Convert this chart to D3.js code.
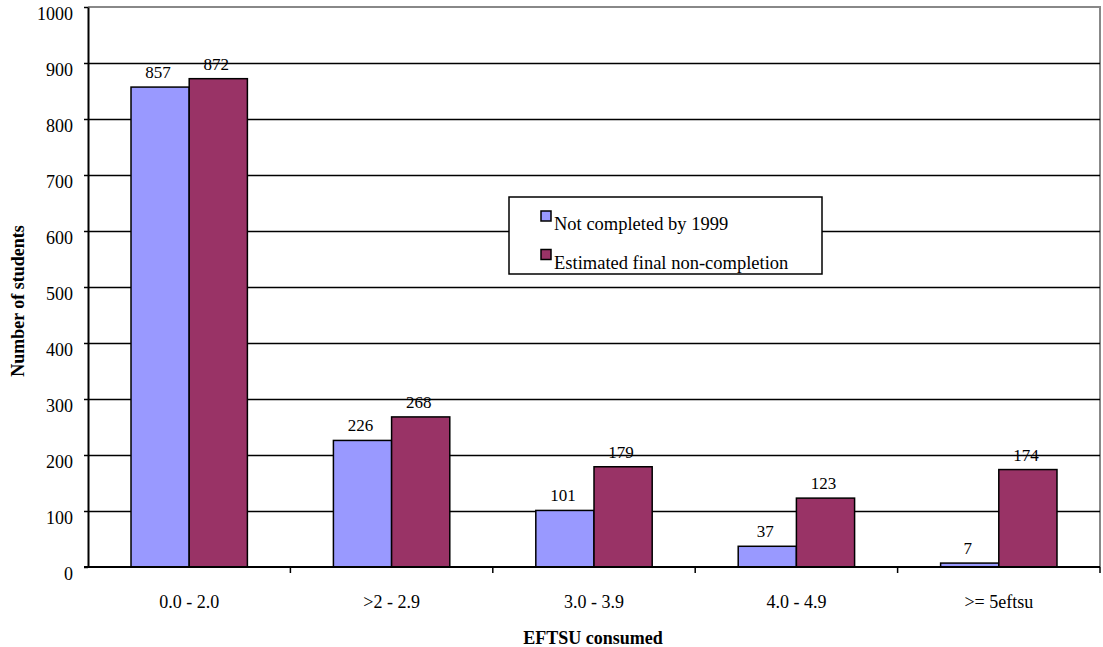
<!DOCTYPE html>
<html>
<head>
<meta charset="utf-8">
<script src="https://cdn.jsdelivr.net/npm/d3@7"></script>
<style>
  html, body { margin: 0; padding: 0; background: #fff; }
  svg { display: block; }
</style>
</head>
<body>
<svg id="chart" width="1103" height="647"></svg>
<script>
// EFTSU bands and student counts per series
const categories = ["0.0 - 2.0", ">2 - 2.9", "3.0 - 3.9", "4.0 - 4.9", ">= 5eftsu"];
const notCompleted = [857, 226, 101, 37, 7];
const estimatedFinal = [872, 268, 179, 123, 174];
const seriesNames = ["Not completed by 1999", "Estimated final non-completion"];
const seriesColors = ["#9999FF", "#993366"];
const yTicks = [0, 100, 200, 300, 400, 500, 600, 700, 800, 900, 1000];

const SERIF = '"Liberation Serif"';
const svg = d3.select("#chart");
const margin = { left: 88, top: 7, right: 1100, bottom: 567 };

const x = d3.scaleBand()
  .domain(categories)
  .range([margin.left, margin.right])
  .paddingInner(0.425)
  .paddingOuter(0.2125);

const xOuter = d3.scaleBand().domain(categories).range([margin.left, margin.right]);

const y = d3.scaleLinear().domain([0, 1000]).range([margin.bottom, margin.top]);

// plot frame (top and right)
svg.append("path")
  .attr("d", `M${margin.left},${margin.top}H${margin.right}V${margin.bottom}`)
  .attr("fill", "none").attr("stroke", "#888").attr("stroke-width", 2);

// horizontal gridlines
svg.append("g").selectAll("line")
  .data(yTicks.filter(t => t > 0 && t < 1000))
  .join("line")
  .attr("x1", margin.left).attr("x2", margin.right)
  .attr("y1", d => Math.round(y(d)) + 0.5).attr("y2", d => Math.round(y(d)) + 0.5)
  .attr("stroke", "#000").attr("stroke-width", 1.5);

// y axis
const yAxis = svg.append("g")
  .attr("transform", `translate(${margin.left},0)`)
  .call(d3.axisLeft(y).tickValues(yTicks).tickFormat(d3.format("d"))
    .tickSize(4).tickPadding(11).tickSizeOuter(0));
yAxis.select(".domain").attr("stroke", "#000").attr("stroke-width", 2);
yAxis.selectAll(".tick line").attr("stroke", "#000").attr("stroke-width", 1.5);
yAxis.selectAll(".tick text")
  .style("font-family", SERIF).style("font-size", "18px").attr("fill", "#000")
  .attr("dy", "12px");

// bars
const pairs = categories.map((c, i) => ({ c, vals: [notCompleted[i], estimatedFinal[i]] }));
const bw = x.bandwidth() / 2;
const groups = svg.append("g").selectAll("g")
  .data(pairs).join("g")
  .attr("transform", d => `translate(${x(d.c)},0)`);

groups.selectAll("rect")
  .data(d => d.vals.map((v, k) => ({ v, k })))
  .join("rect")
  .attr("x", d => d.k * bw)
  .attr("y", d => y(d.v))
  .attr("width", bw)
  .attr("height", d => y(0) - y(d.v))
  .attr("fill", d => seriesColors[d.k])
  .attr("stroke", "#000").attr("stroke-width", 1.5);

// value labels above each bar
groups.selectAll("text")
  .data(d => d.vals.map((v, k) => ({ v, k })))
  .join("text")
  .attr("x", d => d.k * bw + bw / 2 - 2)
  .attr("y", d => y(d.v) - 9)
  .attr("text-anchor", "middle")
  .style("font-family", SERIF)
  .style("font-size", "17px")
  .text(d => d.v);

// x axis
const xAxis = svg.append("g")
  .attr("transform", `translate(0,${margin.bottom})`)
  .call(d3.axisBottom(xOuter).tickSize(0));
xAxis.select(".domain").remove();
svg.append("line")
  .attr("x1", margin.left - 4).attr("x2", margin.right)
  .attr("y1", margin.bottom).attr("y2", margin.bottom)
  .attr("stroke", "#000").attr("stroke-width", 2);
xAxis.selectAll(".tick text")
  .attr("y", 41).attr("dy", 0)
  .style("font-family", SERIF).style("font-size", "18px").attr("fill", "#000");
// category boundary ticks
svg.append("g").selectAll("line")
  .data(categories.slice(1).concat([null]))
  .join("line")
  .attr("x1", d => d ? xOuter(d) : margin.right)
  .attr("x2", d => d ? xOuter(d) : margin.right)
  .attr("y1", margin.bottom).attr("y2", margin.bottom + 6)
  .attr("stroke", "#000").attr("stroke-width", 1.5);

// axis titles
svg.append("text")
  .attr("x", 593).attr("y", 644)
  .attr("text-anchor", "middle")
  .style("font-family", SERIF).style("font-weight", "bold").style("font-size", "18px")
  .text("EFTSU consumed");
svg.append("text")
  .attr("transform", "translate(24,301) rotate(-90)")
  .attr("text-anchor", "middle")
  .style("font-family", SERIF).style("font-weight", "bold").style("font-size", "18px")
  .text("Number of students");

// legend
const legend = svg.append("g").attr("transform", "translate(509,197)");
legend.append("rect")
  .attr("width", 313).attr("height", 77)
  .attr("fill", "#fff").attr("stroke", "#000").attr("stroke-width", 1.5);
seriesNames.forEach((name, k) => {
  const row = legend.append("g").attr("transform", `translate(0,${k * 38.5})`);
  row.append("rect")
    .attr("x", 32).attr("y", 14).attr("width", 10).attr("height", 10)
    .attr("fill", seriesColors[k]).attr("stroke", "#000").attr("stroke-width", 1.5);
  row.append("text")
    .attr("x", 45).attr("y", 33)
    .style("font-family", SERIF)
    .style("font-size", "18.5px")
    .text(name);
});
</script>
</body>
</html>
